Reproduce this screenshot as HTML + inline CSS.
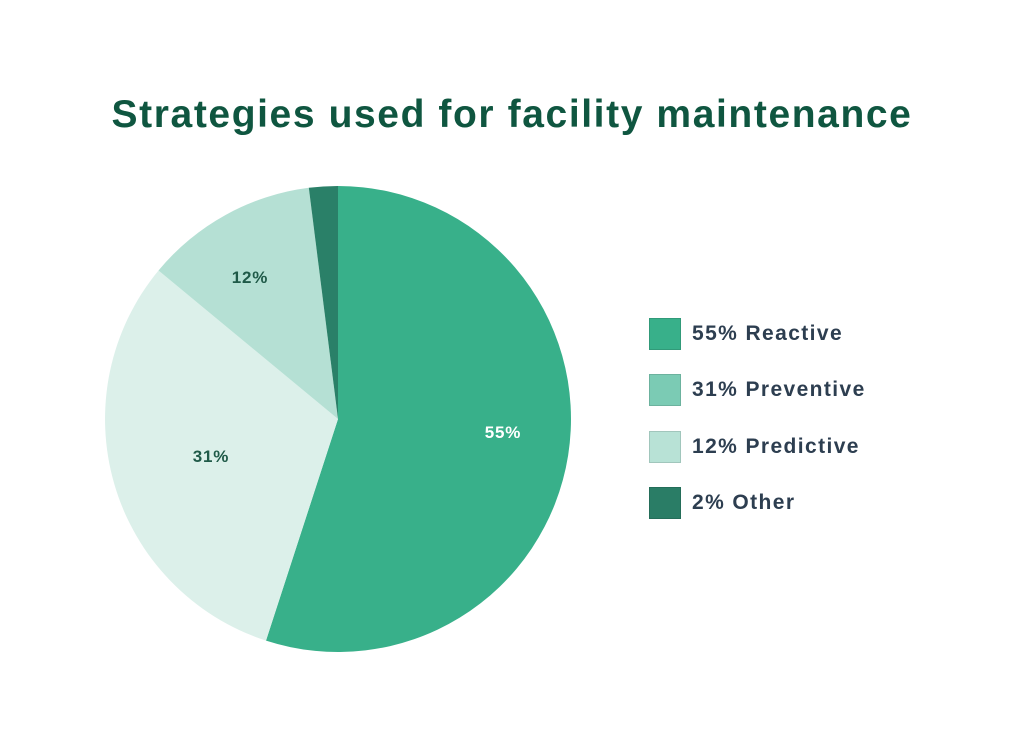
<!DOCTYPE html>
<html><head><style>
html,body{margin:0;padding:0;background:#fff;}
body{width:1024px;height:746px;position:relative;overflow:hidden;font-family:"Liberation Sans",sans-serif;}
h1{position:absolute;left:0;width:1024px;top:93px;margin:0;text-align:center;font-size:39px;font-weight:bold;color:#0f5640;letter-spacing:1.6px;}
.lg{position:absolute;left:649px;width:32px;height:32px;box-sizing:border-box;border:1px solid rgba(0,0,0,0.12);}
.lt{position:absolute;left:692px;font-size:21px;font-weight:bold;color:#2d3e50;line-height:32px;letter-spacing:1.4px;}
</style></head><body>
<h1>Strategies used for facility maintenance</h1>
<svg width="1024" height="746" style="position:absolute;left:0;top:0">
<path d="M338,419 L338,186 A233,233 0 1,1 266.0,640.6 Z" fill="#38b08a"/>
<path d="M338,419 L266.0,640.6 A233,233 0 0,1 158.5,270.5 Z" fill="#dcf0ea"/>
<path d="M338,419 L158.5,270.5 A233,233 0 0,1 308.8,187.8 Z" fill="#b5e0d4"/>
<path d="M338,419 L308.8,187.8 A233,233 0 0,1 338,186 Z" fill="#2a8068"/>
<g font-family="Liberation Sans, sans-serif" font-weight="bold" font-size="17" text-anchor="middle" letter-spacing="0.8">
<text x="503" y="438" fill="#ffffff">55%</text>
<text x="211" y="462" fill="#1f5a48">31%</text>
<text x="250" y="283" fill="#1f5a48">12%</text>
</g>
</svg>
<div class="lg" style="top:318px;background:#38b08a"></div><div class="lt" style="top:318px">55% Reactive</div>
<div class="lg" style="top:374px;background:#7bcbb4"></div><div class="lt" style="top:374px">31% Preventive</div>
<div class="lg" style="top:431px;background:#b8e2d6"></div><div class="lt" style="top:431px">12% Predictive</div>
<div class="lg" style="top:487px;background:#2a7d66"></div><div class="lt" style="top:487px">2% Other</div>
</body></html>
